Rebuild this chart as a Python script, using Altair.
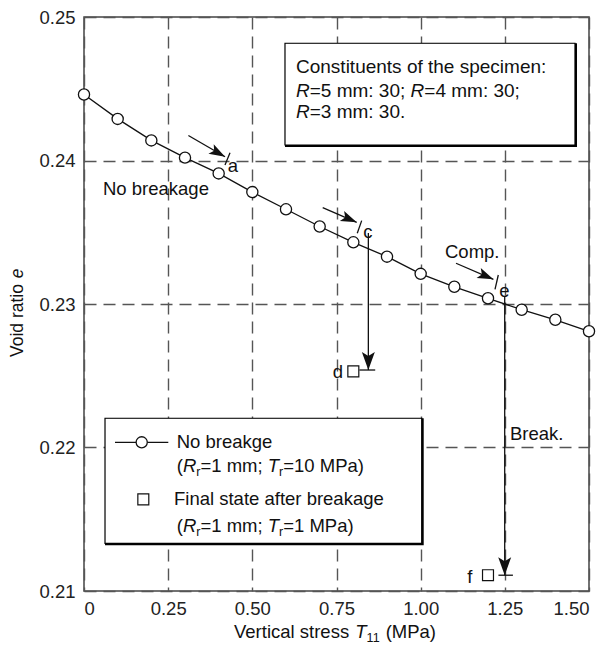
import altair as alt
import pandas as pd

FONT = "Liberation Sans"
INK = "#111111"
GRID = "#555555"

# ---------------- data ----------------
stress = [0.0, 0.1, 0.2, 0.3, 0.4, 0.5, 0.6, 0.7, 0.8, 0.9, 1.0, 1.1, 1.2, 1.3, 1.4, 1.5]
void_ratio = [0.2446, 0.2429, 0.2414, 0.2402, 0.2391, 0.2378, 0.2366, 0.2354,
              0.2343, 0.2333, 0.2321, 0.2312, 0.2304, 0.2296, 0.2289, 0.2281]

final_stress = [0.80, 1.20]          # squares d and f
final_void = [0.2253, 0.2111]

x_ticks = [0, 0.25, 0.5, 0.75, 1.0, 1.25, 1.5]
y_ticks = [0.21, 0.22, 0.23, 0.24, 0.25]

# diagonal arrows towards points a, c, e
arrow_x1 = [0.310, 0.709, 1.105]
arrow_e1 = [0.24174, 0.23671, 0.23284]
arrow_x2 = [0.419, 0.810, 1.216]
arrow_e2 = [0.24026, 0.23569, 0.23172]
arrow_ang = [29, 23, 23]

# small slanted marks on the curve at a, c, e
mark_x1 = [0.4337, 0.8248, 1.2306]
mark_e1 = [0.24054, 0.23581, 0.23202]
mark_x2 = [0.4188, 0.8117, 1.2208]
mark_e2 = [0.23969, 0.23493, 0.23102]

# vertical drops c->d and e->f
drop_x = [0.8446, 1.2496]
drop_e1 = [0.23495, 0.23056]
drop_e2 = [0.2254, 0.2111]
stop_x1 = [0.818, 1.231]
stop_x2 = [0.865, 1.274]

# boxes (info box, legend box)
box_x1 = [0.597, 0.0624]
box_x2 = [1.4584, 1.0031]
box_e1 = [0.24817, 0.22204]
box_e2 = [0.24108, 0.21332]

# legend symbols
leg_line_x = [0.0921, 0.2504]
leg_line_e = 0.22036
leg_circle = (0.1714, 0.22036)
leg_square = (0.1762, 0.21639)

XMIN, XMAX = 0.0, 1.5
YMIN, YMAX = 0.21, 0.25
PW, PH = 505, 574
PXX = (XMAX - XMIN) / PW
PXY = (YMAX - YMIN) / PH

FS = 18.5
SUB = 12.5
SUB_DY = 4

AW = {' ': 278, '(': 333, ')': 333, '=': 584, '.': 278, ':': 278, ';': 278, ',': 278,
      'a': 556, 'b': 556, 'c': 500, 'd': 556, 'e': 556, 'f': 278, 'g': 556, 'h': 556,
      'i': 222, 'k': 500, 'l': 222, 'm': 833, 'n': 556, 'o': 556, 'p': 556, 'r': 333,
      's': 500, 't': 278, 'u': 556, 'v': 500, 'w': 722, 'x': 500, 'y': 500,
      'B': 667, 'C': 722, 'F': 611, 'M': 833, 'N': 722, 'P': 667, 'R': 722, 'T': 611, 'V': 667}


def tw(s, size):
    return sum(AW.get(ch, 556) for ch in s) * size / 1000.0


# rich texts: (x, baseline e, size, pieces)
rich = [
    (0.0564, 0.23760, FS, [("No breakage", "n")]),
    (0.4268, 0.23922, FS, [("a", "n")]),
    (0.8296, 0.23458, FS, [("c", "n")]),
    (1.2335, 0.23051, FS, [("e", "n")]),
    (1.0723, 0.23318, FS, [("Comp.", "n")]),
    (1.2653, 0.22052, FS, [("Break.", "n")]),
    (0.7387, 0.22482, FS, [("d", "n")]),
    (1.1386, 0.21058, FS, [("f", "n")]),
    (0.6297, 0.24608, 19, [("Constituents of the specimen:", "n")]),
    (0.6297, 0.24445, 19, [("R", "i"), ("=5 mm: 30; ", "n"), ("R", "i"), ("=4 mm: 30;", "n")]),
    (0.6297, 0.24294, 19, [("R", "i"), ("=3 mm: 30.", "n")]),
    (0.2754, 0.21994, FS, [("No breakge", "n")]),
    (0.2754, 0.21831, FS, [("(", "n"), ("R", "i"), ("r", "s"), ("=1 mm; ", "n"),
                           ("T", "i"), ("r", "s"), ("=10 MPa)", "n")]),
    (0.2673, 0.21599, FS, [("Final state after breakage", "n")]),
    (0.2754, 0.21413, FS, [("(", "n"), ("R", "i"), ("r", "s"), ("=1 mm; ", "n"),
                           ("T", "i"), ("r", "s"), ("=1 MPa)", "n")]),
]

rows = []
for x0, y0, size, pieces in rich:
    cum = 0.0
    for txt, kind in pieces:
        sz = SUB if kind == "s" else size
        lead = len(txt) - len(txt.lstrip(" "))
        shown = txt.strip(" ")
        x_here = x0 + (cum + tw(" " * lead, sz)) * PXX
        if kind == "s":
            rows.append(dict(x=x_here, y=y0 - SUB_DY * PXY, t=shown, s=SUB, k="n"))
        else:
            rows.append(dict(x=x_here, y=y0, t=shown, s=size, k=kind))
        cum += tw(txt, sz)
text_df = pd.DataFrame(rows)

xs = alt.Scale(domain=[XMIN, XMAX], nice=False, zero=False)
ys = alt.Scale(domain=[YMIN, YMAX], nice=False, zero=False)

curve_df = pd.DataFrame({"x": stress, "y": void_ratio})
final_df = pd.DataFrame({"x": final_stress, "y": final_void})

x_axis = alt.Axis(values=x_ticks, labelExpr="datum.value == 0 ? '0' : format(datum.value, '.2f')",
                  grid=True, gridDash=[12, 7], gridColor=GRID, gridWidth=1.4,
                  ticks=False, domain=False, labelFont=FONT, labelFontSize=FS,
                  labelColor="#222222", labelPadding=8, title=None)
y_axis = alt.Axis(values=y_ticks, format=".2f",
                  grid=True, gridDash=[12, 7], gridColor=GRID, gridWidth=1.4,
                  ticks=False, domain=False, labelFont=FONT, labelFontSize=FS,
                  labelColor="#222222", labelPadding=9, title=None)


def X(f):
    return alt.X(f, type="quantitative", scale=xs, axis=x_axis)


def Y(f):
    return alt.Y(f, type="quantitative", scale=ys, axis=y_axis)


curve = alt.Chart(curve_df).mark_line(color=INK, strokeWidth=1.3).encode(x=X("x"), y=Y("y"))

box_df = pd.DataFrame({"x1": box_x1, "x2": box_x2, "y1": box_e1, "y2": box_e2})
box_shadow = alt.Chart(box_df).mark_rect(color="#000000", x2Offset=2, y2Offset=2).encode(
    x=X("x1"), x2="x2", y=Y("y1"), y2="y2")
box_white = alt.Chart(box_df).mark_rect(fill="white", stroke="#000000", strokeWidth=1.2).encode(
    x=X("x1"), x2="x2", y=Y("y1"), y2="y2")

points = alt.Chart(curve_df).mark_point(shape="circle", size=125, filled=True, fill="white",
                                        stroke=INK, strokeWidth=1.3, opacity=1).encode(
    x=X("x"), y=Y("y"))

squares = alt.Chart(final_df).mark_point(shape="square", size=120, filled=True, fill="white",
                                         stroke=INK, strokeWidth=1.2, opacity=1).encode(
    x=X("x"), y=Y("y"))

seg_rows = []
for i in range(3):
    seg_rows.append(dict(x1=arrow_x1[i], y1=arrow_e1[i], x2=arrow_x2[i], y2=arrow_e2[i]))
    seg_rows.append(dict(x1=mark_x1[i], y1=mark_e1[i], x2=mark_x2[i], y2=mark_e2[i]))
for i in range(2):
    seg_rows.append(dict(x1=drop_x[i], y1=drop_e1[i], x2=drop_x[i], y2=drop_e2[i]))
    seg_rows.append(dict(x1=stop_x1[i], y1=drop_e2[i], x2=stop_x2[i], y2=drop_e2[i]))
seg_rows.append(dict(x1=leg_line_x[0], y1=leg_line_e, x2=leg_line_x[1], y2=leg_line_e))
seg_df = pd.DataFrame(seg_rows)
segments = alt.Chart(seg_df).mark_rule(color=INK, strokeWidth=1.3).encode(
    x=X("x1"), y=Y("y1"), x2="x2", y2="y2")

diag_df = pd.DataFrame({"x": arrow_x2, "y": arrow_e2, "a": arrow_ang})
diag_heads = alt.Chart(diag_df).mark_point(
    shape="M0,0L-1,-0.34L-0.78,0L-1,0.34Z", size=1024, filled=True, color=INK, opacity=1
).encode(x=X("x"), y=Y("y"), angle=alt.Angle("a:Q", scale=None))

drop_df = pd.DataFrame({"x": drop_x, "y": drop_e2})
drop_heads = alt.Chart(drop_df).mark_point(
    shape="M0,0L-1,-0.36L-0.78,0L-1,0.36Z", size=1296, filled=True, color=INK, opacity=1, angle=90
).encode(x=X("x"), y=Y("y"))

leg_df = pd.DataFrame({"x": [leg_circle[0]], "y": [leg_circle[1]]})
leg_circle_mark = alt.Chart(leg_df).mark_point(shape="circle", size=125, filled=True, fill="white",
                                               stroke=INK, strokeWidth=1.3, opacity=1).encode(
    x=X("x"), y=Y("y"))
legsq_df = pd.DataFrame({"x": [leg_square[0]], "y": [leg_square[1]]})
leg_square_mark = alt.Chart(legsq_df).mark_point(shape="square", size=120, filled=True, fill="white",
                                                 stroke=INK, strokeWidth=1.2, opacity=1).encode(
    x=X("x"), y=Y("y"))

text_norm = alt.Chart(text_df).transform_filter("datum.k == 'n'").mark_text(
    align="left", baseline="alphabetic", font=FONT, color=INK).encode(
    x=X("x"), y=Y("y"), text="t:N", size=alt.Size("s:Q", scale=None))
text_ital = alt.Chart(text_df).transform_filter("datum.k == 'i'").mark_text(
    align="left", baseline="alphabetic", font=FONT, color=INK, fontStyle="italic").encode(
    x=X("x"), y=Y("y"), text="t:N", size=alt.Size("s:Q", scale=None))

# axis titles (mixed styles), positioned in pixels relative to the plot area
one = pd.DataFrame({"a": [0]})
XT_Y = 638 - 17
xt_x0 = 234 - 84


def ptext(txt, x, y, size, italic=False, angle=0):
    kw = dict(align="left", baseline="alphabetic", font=FONT, color=INK, fontSize=size)
    if italic:
        kw["fontStyle"] = "italic"
    if angle:
        kw["angle"] = angle
    return alt.Chart(one).mark_text(**kw).encode(
        x=alt.value(x), y=alt.value(y), text=alt.value(txt))


t1 = "Vertical stress "
w1 = tw(t1, FS)
w2 = tw("T", FS)
w3 = tw("11", SUB)
w_sp = tw(" ", FS)
xtitle = [
    ptext(t1.strip(), xt_x0, XT_Y, FS),
    ptext("T", xt_x0 + w1, XT_Y, FS, italic=True),
    ptext("11", xt_x0 + w1 + w2, XT_Y + SUB_DY, SUB),
    ptext("(MPa)", xt_x0 + w1 + w2 + w3 + w_sp, XT_Y, FS),
]
YFS = 17.5
yt1 = "Void ratio "
ytitle = [
    ptext(yt1.strip(), 23 - 84, 357 - 17, YFS, angle=270),
    ptext("e", 23 - 84, 357 - 17 - tw(yt1, YFS), YFS, italic=True, angle=270),
]

chart = alt.layer(
    curve, box_shadow, box_white, segments,
    points, squares, diag_heads, drop_heads, leg_circle_mark, leg_square_mark,
    text_norm, text_ital, *xtitle, *ytitle
).properties(
    width=PW, height=PH,
    padding={"left": 84, "top": 17, "right": 15, "bottom": 59},
    autosize=alt.AutoSizeParams(type="none"),
    background="white",
).configure_view(stroke="#444444", strokeWidth=1.5)

chart.save("out.html", embed_options={"renderer": "svg", "actions": False})
